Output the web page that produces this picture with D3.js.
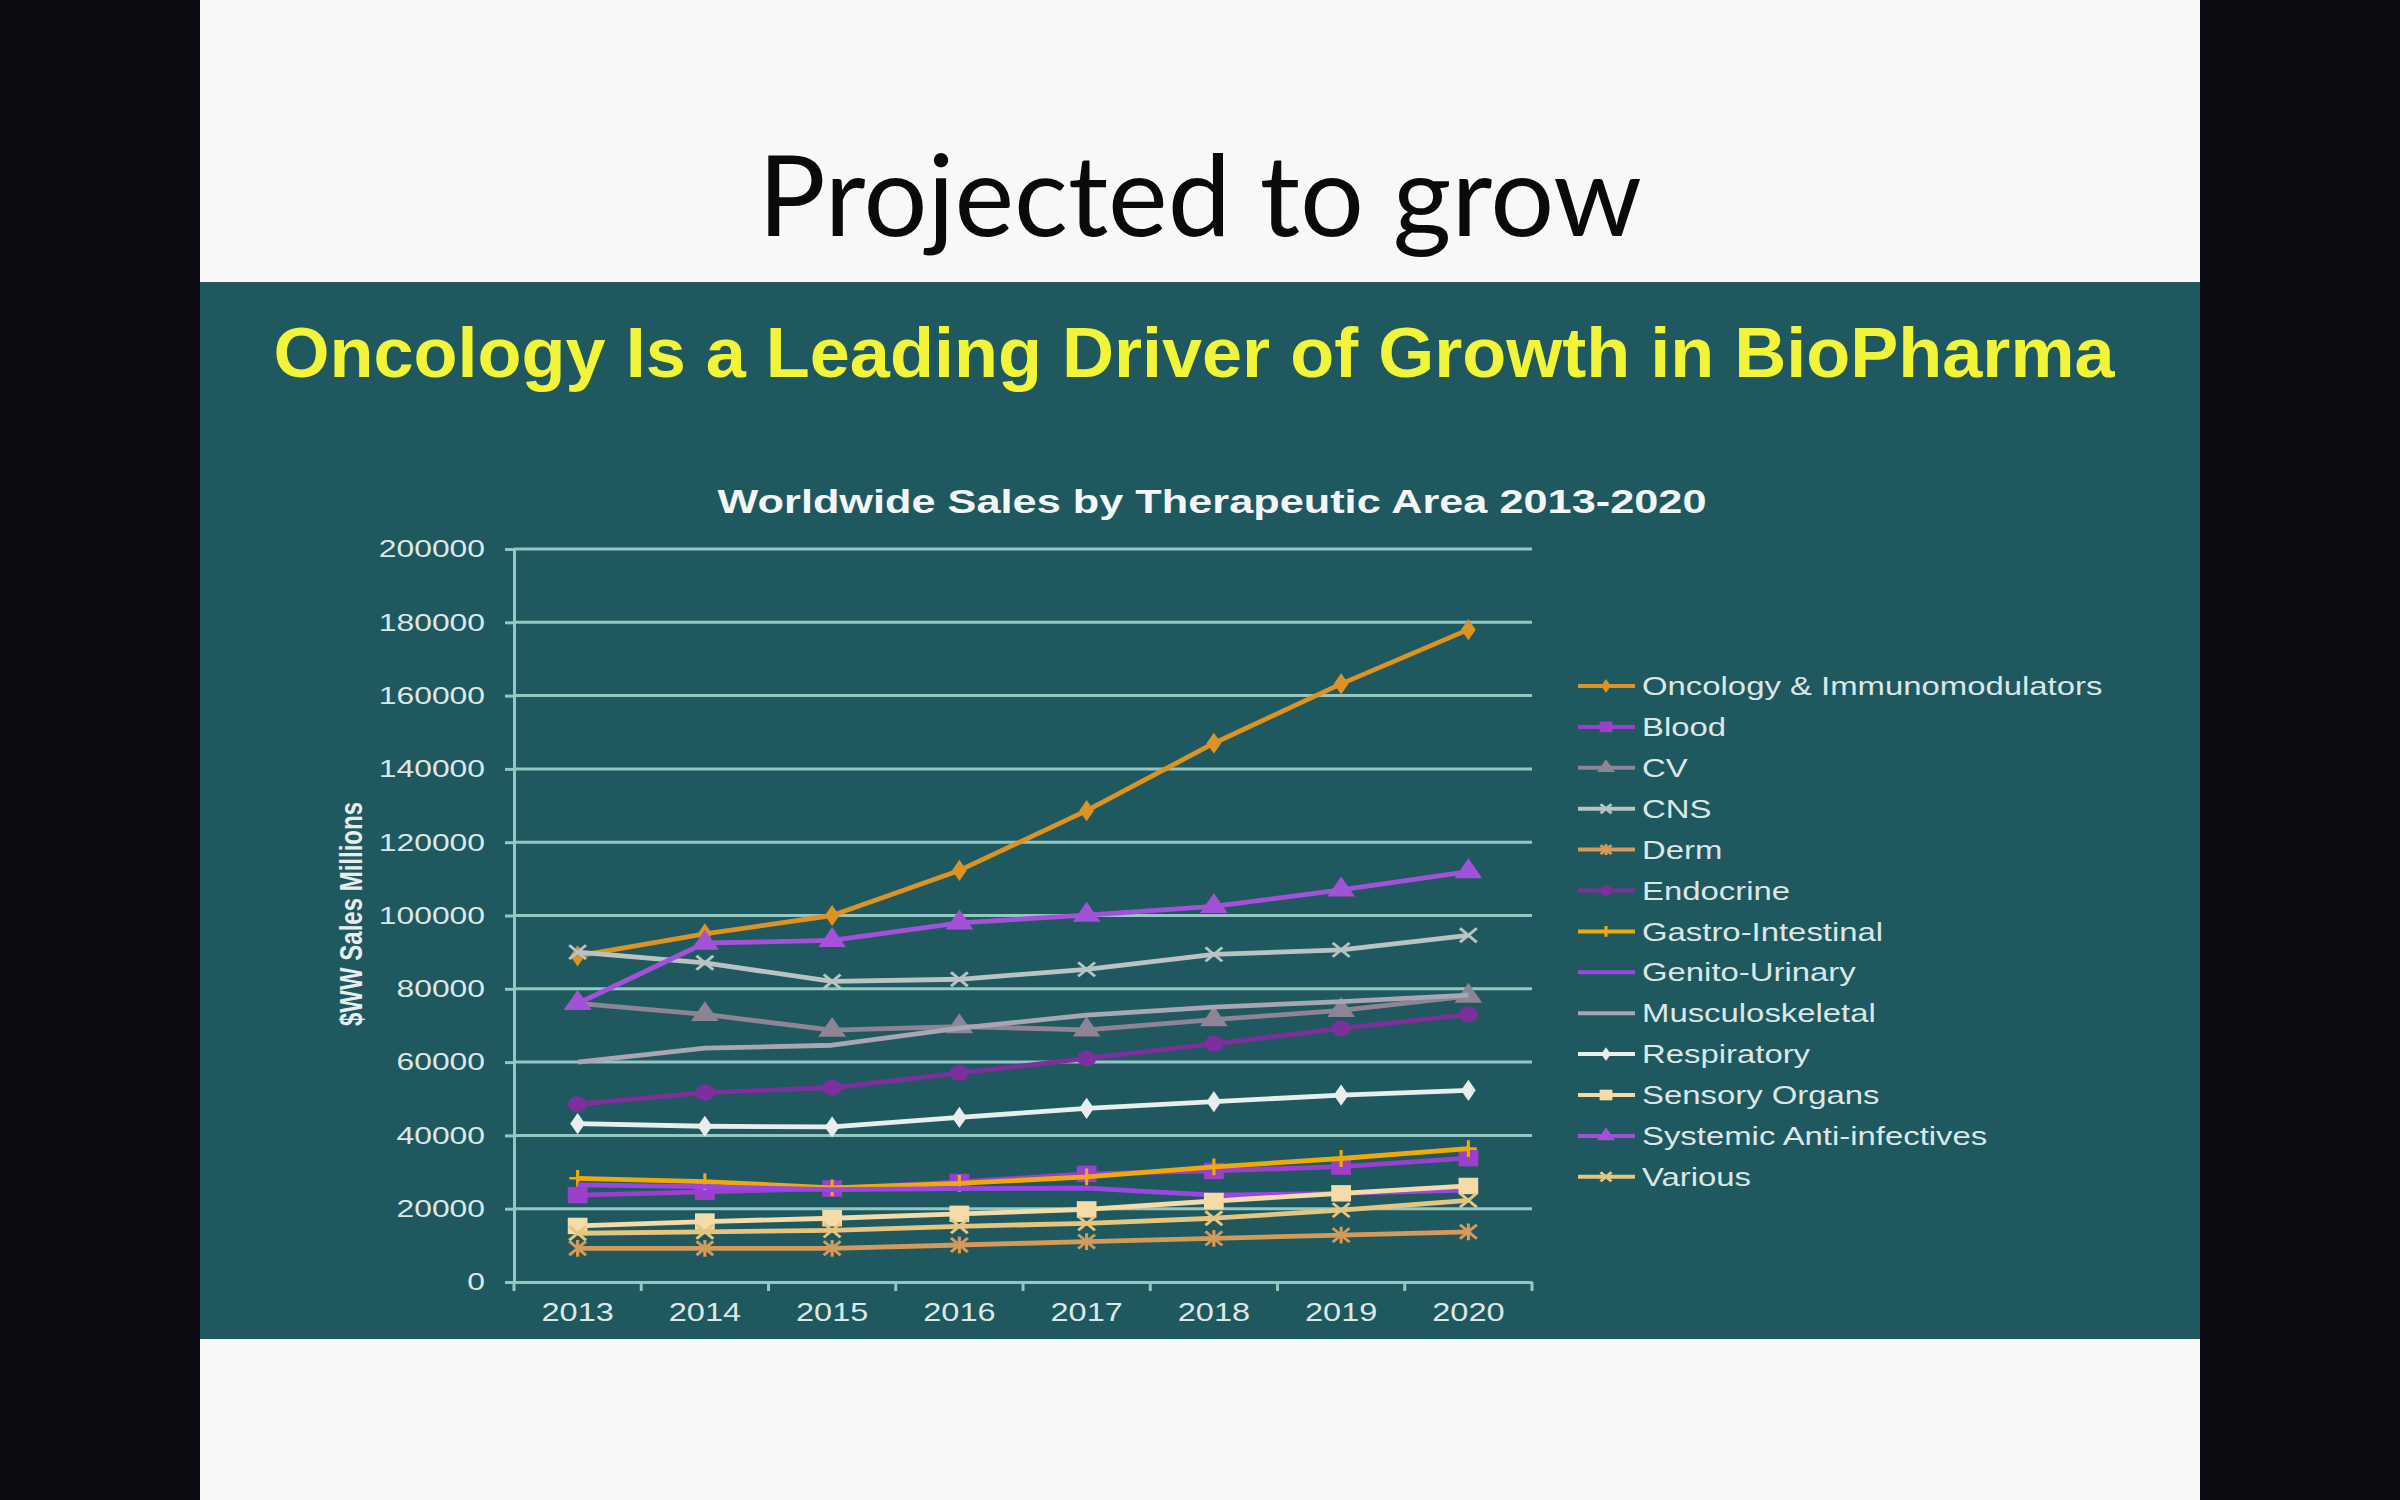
<!DOCTYPE html>
<html>
<head>
<meta charset="utf-8">
<script src="https://cdn.jsdelivr.net/npm/d3@7"></script>
<style>
body{margin:0;background:#0b0b12;}
svg{display:block;}
</style>
</head>
<body>
<svg id="chart" width="2400" height="1500"></svg>
<script>
// categories + tick values
var years=['2013','2014','2015','2016','2017','2018','2019','2020'];
var yTicks=[0,20000,40000,60000,80000,100000,120000,140000,160000,180000,200000];

// series ($ millions)
var oncology=[89000,95000,100000,112300,128600,147000,163200,178000];
var blood=[23700,24600,25500,27300,29500,30300,31500,33800];
var cv=[76000,73000,68700,69700,68800,71600,74100,78000];
var cns=[90000,87100,82000,82600,85300,89400,90600,94600];
var derm=[9200,9200,9200,10100,11000,11900,12800,13700];
var endocrine=[48500,51700,53000,57000,61000,65000,69200,73000];
var gastro=[28300,27400,25700,26900,28700,31400,33700,36400];
var genito=[26500,26000,25200,25500,25600,23700,24200,25100];
var musculo=[60000,63800,64600,69300,72800,75000,76500,78300];
var respiratory=[43200,42500,42300,44900,47400,49200,51000,52300];
var sensory=[15300,16500,17400,18600,19800,22100,24200,26200];
var systemic=[76000,92500,93200,98000,100100,102500,107000,112000];
var various=[13300,13700,14100,15200,16000,17400,19600,22300];

var names=['Oncology & Immunomodulators','Blood','CV','CNS','Derm','Endocrine','Gastro-Intestinal',
  'Genito-Urinary','Musculoskeletal','Respiratory','Sensory Organs','Systemic Anti-infectives','Various'];
var values=[oncology,blood,cv,cns,derm,endocrine,gastro,genito,musculo,respiratory,sensory,systemic,various];

var colors=['#dc9324','#9c3fcc','#8d8595','#b9c3c3','#d49a5a','#7d2f9d','#f0a90a',
  '#9a46e4','#a8a5b5','#e8eeee','#f5dba8','#a451da','#e6c67e'];
var markers=['diamond','square','triangle','x','star','circle','plus','none','none','diamond','square','triangle','x'];

var svg=d3.select('#chart');

// slide background
svg.append('rect').attr('width',2400).attr('height',1500).attr('fill','#0b0b12');
svg.append('rect').attr('x',200).attr('y',0).attr('width',2000).attr('height',1500).attr('fill','#f8f8f8');
svg.append('rect').attr('x',200).attr('y',282).attr('width',2000).attr('height',1057).attr('fill','#1f585e');

svg.append('text').text('Projected to grow').attr('x',1200).attr('y',236)
  .attr('text-anchor','middle').attr('textLength',884).attr('lengthAdjust','spacingAndGlyphs')
  .style('font-family','Lato, "Open Sans", sans-serif').style('font-size','112px').style('fill','#0a0a0a');

svg.append('text').text('Oncology Is a Leading Driver of Growth in BioPharma').attr('x',1194).attr('y',377)
  .attr('text-anchor','middle').attr('textLength',1841).attr('lengthAdjust','spacingAndGlyphs')
  .style('font-family','"Liberation Sans", Arial, sans-serif').style('font-weight','bold')
  .style('font-size','70px').style('fill','#f2f43a');

svg.append('text').text('Worldwide Sales by Therapeutic Area 2013-2020').attr('x',1212).attr('y',513)
  .attr('text-anchor','middle').attr('textLength',989).attr('lengthAdjust','spacingAndGlyphs')
  .style('font-family','"Liberation Sans", Arial, sans-serif').style('font-weight','bold')
  .style('font-size','33px').style('fill','#f2f6f6');

// scales
var x=d3.scaleBand().domain(years).range([514,1532]);
var y=d3.scaleLinear().domain([0,200000]).range([1282,549]);
var cx=function(i){return x(years[i])+x.bandwidth()/2;};

var axisCol='#94c6c2';
var tickFont='"Liberation Sans", Arial, sans-serif';

// gridlines
svg.append('g').selectAll('line').data(yTicks.slice(1)).join('line')
  .attr('x1',514).attr('x2',1532).attr('y1',function(d){return y(d);}).attr('y2',function(d){return y(d);})
  .attr('stroke',axisCol).attr('stroke-width',3);

// y axis
var gy=svg.append('g').attr('transform','translate(514,0)')
  .call(d3.axisLeft(y).tickValues(yTicks).tickSize(9).tickSizeOuter(0).tickFormat(d3.format('d')));
gy.select('.domain').attr('stroke',axisCol).attr('stroke-width',3);
gy.selectAll('.tick line').attr('stroke',axisCol).attr('stroke-width',3);
gy.selectAll('.tick text').attr('x',-29/1.3).attr('transform','scale(1.3,1)')
  .style('font-family',tickFont).style('font-size','24.5px').style('fill','#dce8e8');

// x axis
var gx=svg.append('g').attr('transform','translate(0,1282)')
  .call(d3.axisBottom(x).tickSize(0).tickPadding(21).tickSizeOuter(0));
gx.select('.domain').attr('stroke',axisCol).attr('stroke-width',3);
gx.selectAll('.tick text').attr('transform','scale(1.3,1)')
  .style('font-family',tickFont).style('font-size','25px').style('fill','#dce8e8');
gx.selectAll('.bound').data(d3.range(years.length+1)).join('line').attr('class','bound')
  .attr('x1',function(i){return x.range()[0]+i*x.step();}).attr('x2',function(i){return x.range()[0]+i*x.step();})
  .attr('y1',0).attr('y2',9).attr('stroke',axisCol).attr('stroke-width',3);

svg.append('text').text('$WW Sales Millions')
  .attr('transform','translate(362,914) rotate(-90) scale(1,1.3)').attr('text-anchor','middle')
  .style('font-family',tickFont).style('font-weight','bold').style('font-size','24px').style('fill','#e6eeee');

// marker drawing
function marker(g,type,color,k){
  var r=7*k;
  if(type==='none') return;
  if(type==='x'||type==='star'||type==='plus'){
    var d='';
    if(type!=='plus') d+='M'+(-r)+','+(-r)+'L'+r+','+r+'M'+(-r)+','+r+'L'+r+','+(-r);
    if(type!=='x') d+='M0,'+(-r*1.2)+'L0,'+(r*1.2);
    if(type==='plus') d+='M'+(-r)+',0L'+r+',0';
    g.append('path').attr('d',d).attr('fill','none').attr('stroke',color).attr('stroke-width',2.6);
    return;
  }
  var sym={diamond:d3.symbolDiamond,square:d3.symbolSquare,triangle:d3.symbolTriangle,circle:d3.symbolCircle}[type];
  var size={diamond:130,square:270,triangle:230,circle:200}[type];
  g.append('path').attr('d',d3.symbol().type(sym).size(size*k*k)()).attr('fill',color);
}

var line=d3.line().x(function(d,i){return cx(i);}).y(function(d){return y(d);});

// series, drawn in order so later ones sit on top
values.forEach(function(vals,s){
  var g=svg.append('g');
  g.append('path').datum(vals).attr('d',line).attr('fill','none')
    .attr('stroke',colors[s]).attr('stroke-width',4.8).attr('stroke-linejoin','round');
  vals.forEach(function(v,i){
    var m=g.append('g').attr('transform','translate('+cx(i)+','+y(v)+') scale(1.2,1)');
    marker(m,markers[s],colors[s],1);
  });
});

// legend
var leg=svg.append('g');
names.forEach(function(n,i){
  var ry=686+i*40.9;
  leg.append('line').attr('x1',1578).attr('x2',1635).attr('y1',ry).attr('y2',ry)
    .attr('stroke',colors[i]).attr('stroke-width',4);
  var m=leg.append('g').attr('transform','translate(1606,'+ry+') scale(1.2,1)');
  marker(m,markers[i],colors[i],0.65);
  leg.append('text').text(n).attr('transform','translate(1642,'+ry+') scale(1.265,1)').attr('dy','0.35em')
    .style('font-family',tickFont).style('font-size','26px').style('fill','#dbe7e7');
});
</script>
</body>
</html>
